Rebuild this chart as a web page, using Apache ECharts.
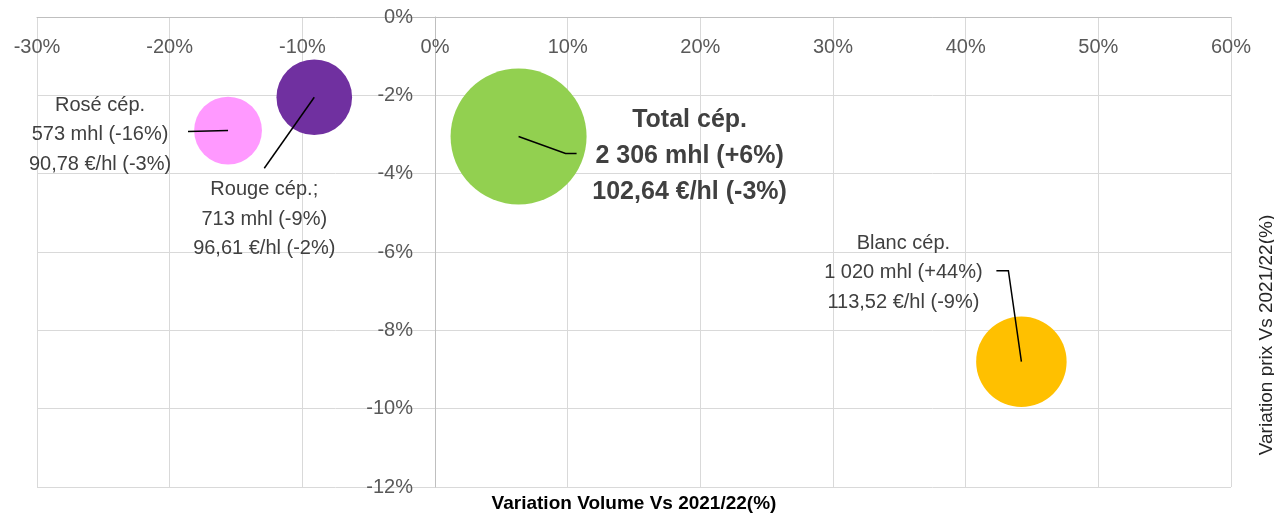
<!DOCTYPE html>
<html>
  <head>
    <meta charset="utf-8" />
    <script src="https://cdn.jsdelivr.net/npm/echarts/dist/echarts.min.js"></script>
  </head>
  <body style="margin:0">
    <div id="bubble-chart" style="width: 1274px; height: 514px;"></div>
    <script>
        // Data (variations in %)
        var names = ['Rosé cép.', 'Rouge cép.;', 'Total cép.', 'Blanc cép.'];
        var volumeVar = [-15.6, -9.1, 6.3, 44.2];
        var priceVar = [-2.9, -2.05, -3.05, -8.8];
        var volumes = [573, 713, 2306, 1020];
        var volumeText = ['573 mhl (-16%)', '713 mhl (-9%)', '2 306 mhl (+6%)', '1 020 mhl (+44%)'];
        var priceText = ['90,78 €/hl (-3%)', '96,61 €/hl (-2%)', '102,64 €/hl (-3%)', '113,52 €/hl (-9%)'];
        var colors = ['#FF99FF', '#7030A0', '#92D050', '#FFC000'];

        // label placement (pixels, relative to bubble centre)
        var labelOffsets = [[-128, 4], [-50, 122], [171, 20], [-118, -89]];
        var leaderPoints = [
          [[0, 0], [-40, 1]],
          [[0, 0], [-50, 71]],
          [[0, 0], [47, 17], [58, 17]],
          [[0, 0], [-13, -91], [-25, -91]]
        ];

        var font = '"Liberation Sans", Arial, sans-serif';
        var chart = echarts.init(document.getElementById('bubble-chart'));

        var bubbles = names.map(function (n, i) {
          var isTotal = i === 2;
          return {
            value: [volumeVar[i], priceVar[i], volumes[i]],
            itemStyle: { color: colors[i], opacity: 1 },
            label: {
              offset: labelOffsets[i],
              fontSize: isTotal ? 25 : 20,
              fontWeight: isTotal ? 'bold' : 'normal',
              lineHeight: isTotal ? 36 : 29.5
            }
          };
        });

        var option = {
          animation: false,
          textStyle: { fontFamily: font },
          grid: { left: 37, right: 43, top: 17, bottom: 27, outerBoundsMode: 'none', containLabel: false },
          xAxis: [{
            type: 'value', min: -30, max: 60, interval: 10, position: 'top',
            axisLine: { onZero: false, lineStyle: { color: '#bfbfbf' } },
            axisTick: { show: false },
            axisLabel: { formatter: '{value}%', color: '#595959', fontSize: 20, margin: 20, inside: true },
            splitLine: { lineStyle: { color: '#d9d9d9' } }
          }, {
            type: 'value', min: -30, max: 60, position: 'bottom',
            axisLine: { show: false, onZero: false }, axisTick: { show: false },
            axisLabel: { show: false }, splitLine: { show: false },
            name: 'Variation Volume Vs 2021/22(%)', nameLocation: 'middle', nameGap: 7,
            nameTextStyle: { color: '#000', fontWeight: 'bold', fontSize: 19 }
          }],
          yAxis: [{
            // axis drawn at x = 0 (grid width 1194 px, 0 sits 398 px from the left edge)
            type: 'value', min: -12, max: 0, interval: 2, position: 'left', offset: -398,
            axisLine: { show: true, onZero: false, lineStyle: { color: '#bfbfbf' } },
            axisTick: { show: false },
            axisLabel: { formatter: '{value}%', color: '#595959', fontSize: 20, margin: 22 },
            splitLine: { lineStyle: { color: '#d9d9d9' } }
          }, {
            type: 'value', min: -12, max: 0, position: 'right',
            axisLine: { show: false, onZero: false }, axisTick: { show: false },
            axisLabel: { show: false }, splitLine: { show: false },
            name: 'Variation prix Vs 2021/22(%)', nameLocation: 'middle', nameGap: 26,
            nameTextStyle: { color: '#262626', fontSize: 19, padding: [0, 166, 0, 0] }
          }],
          series: [{
            type: 'scatter',
            data: bubbles,
            symbolSize: function (val) { return 136 * Math.sqrt(val[2] / 2306); },
            label: {
              show: true,
              position: 'inside',
              color: '#404040',
              align: 'center',
              formatter: function (p) {
                var i = p.dataIndex;
                return names[i] + '\n' + volumeText[i] + '\n' + priceText[i];
              }
            },
            z: 2
          }, {
            type: 'custom',
            data: volumeVar.map(function (v, i) { return [v, priceVar[i]]; }),
            renderItem: function (params, api) {
              var c = api.coord([api.value(0), api.value(1)]);
              var pts = leaderPoints[params.dataIndex].map(function (p) {
                return [c[0] + p[0], c[1] + p[1]];
              });
              return {
                type: 'polyline',
                shape: { points: pts },
                style: { stroke: '#000', lineWidth: 1.5, fill: null }
              };
            },
            z: 3
          }]
        };

        chart.setOption(option);
    </script>
  </body>
</html>
